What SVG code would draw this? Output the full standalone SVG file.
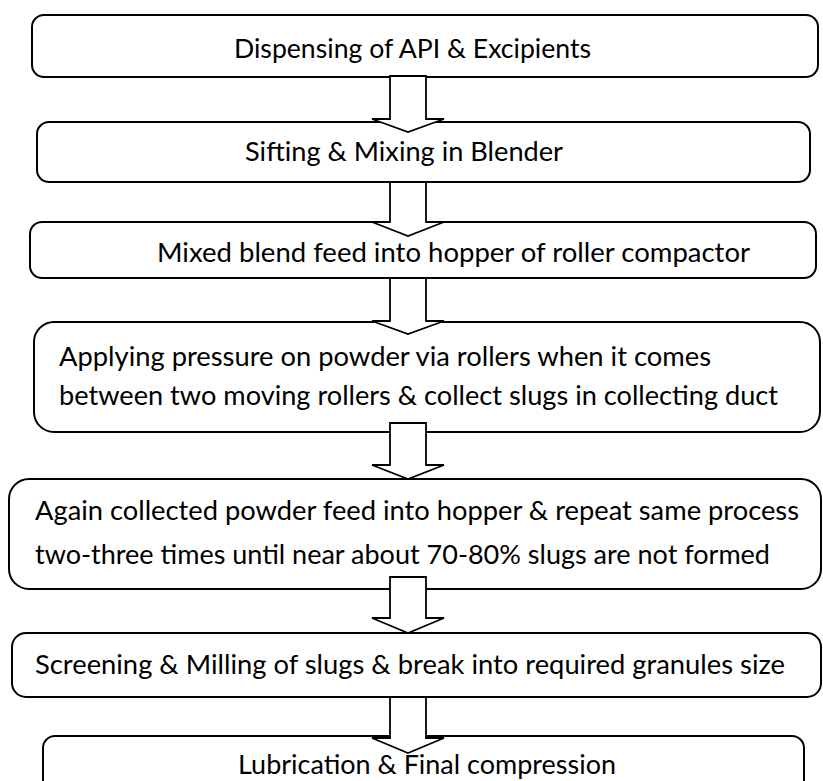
<svg xmlns="http://www.w3.org/2000/svg" width="823" height="781" viewBox="0 0 823 781">
  <style>
    .box { fill: #ffffff; stroke: #000000; stroke-width: 2; }
    .arrow { fill: #ffffff; stroke: #000000; stroke-width: 1.8; stroke-linejoin: miter; }
    .lbl { font-family: Lato, "Open Sans", sans-serif; font-size: 26.5px; fill: #000000; }
  </style>
  <rect width="823" height="781" fill="#ffffff"/>

  <g id="node1">
    <rect class="box" x="32" y="15" width="786" height="62" rx="12"/>
    <text class="lbl" x="234" y="57.5" textLength="357" lengthAdjust="spacingAndGlyphs">Dispensing of API &amp; Excipients</text>
  </g>
  <g id="node2">
    <rect class="box" x="37" y="122" width="773" height="60" rx="12"/>
    <text class="lbl" x="245" y="161" textLength="318" lengthAdjust="spacingAndGlyphs">Sifting &amp; Mixing in Blender</text>
  </g>
  <g id="node3">
    <rect class="box" x="30" y="222" width="786" height="56" rx="12"/>
    <text class="lbl" x="157" y="262" textLength="593" lengthAdjust="spacingAndGlyphs">Mixed blend feed into hopper of roller compactor</text>
  </g>
  <g id="node4">
    <rect class="box" x="34" y="322" width="786" height="110" rx="20"/>
    <text class="lbl" x="59" y="366" textLength="652" lengthAdjust="spacingAndGlyphs">Applying pressure on powder via rollers when it comes</text>
    <text class="lbl" x="59" y="405" textLength="719" lengthAdjust="spacingAndGlyphs">between two moving rollers &amp; collect slugs in collecting duct</text>
  </g>
  <g id="node5">
    <rect class="box" x="9" y="479" width="812" height="110" rx="20"/>
    <text class="lbl" x="35" y="520" textLength="764" lengthAdjust="spacingAndGlyphs">Again collected powder feed into hopper &amp; repeat same process</text>
    <text class="lbl" x="35" y="564" textLength="735" lengthAdjust="spacingAndGlyphs">two-three times until near about 70-80% slugs are not formed</text>
  </g>
  <g id="node6">
    <rect class="box" x="12" y="633" width="809" height="64" rx="14"/>
    <text class="lbl" x="35" y="674" textLength="750" lengthAdjust="spacingAndGlyphs">Screening &amp; Milling of slugs &amp; break into required granules size</text>
  </g>
  <g id="node7">
    <rect class="box" x="43" y="736" width="761" height="70" rx="12"/>
    <text class="lbl" x="238" y="773.5" textLength="378" lengthAdjust="spacingAndGlyphs">Lubrication &amp; Final compression</text>
  </g>

  <g id="connectors">
    <polygon class="arrow" points="390,76 426,76 426,119 444,119 408,132 372,119 390,119"/>
    <polygon class="arrow" points="390,182 426,182 426,222 444,222 408,236 372,222 390,222"/>
    <polygon class="arrow" points="390,278 426,278 426,321 444,321 408,334 372,321 390,321"/>
    <polygon class="arrow" points="390,423 426,423 426,465 444,465 408,479 372,465 390,465"/>
    <polygon class="arrow" points="390,577 426,577 426,618 444,618 408,633 372,618 390,618"/>
    <polygon class="arrow" points="390,697 426,697 426,738 444,738 408,753 372,738 390,738"/>
  </g>
</svg>
